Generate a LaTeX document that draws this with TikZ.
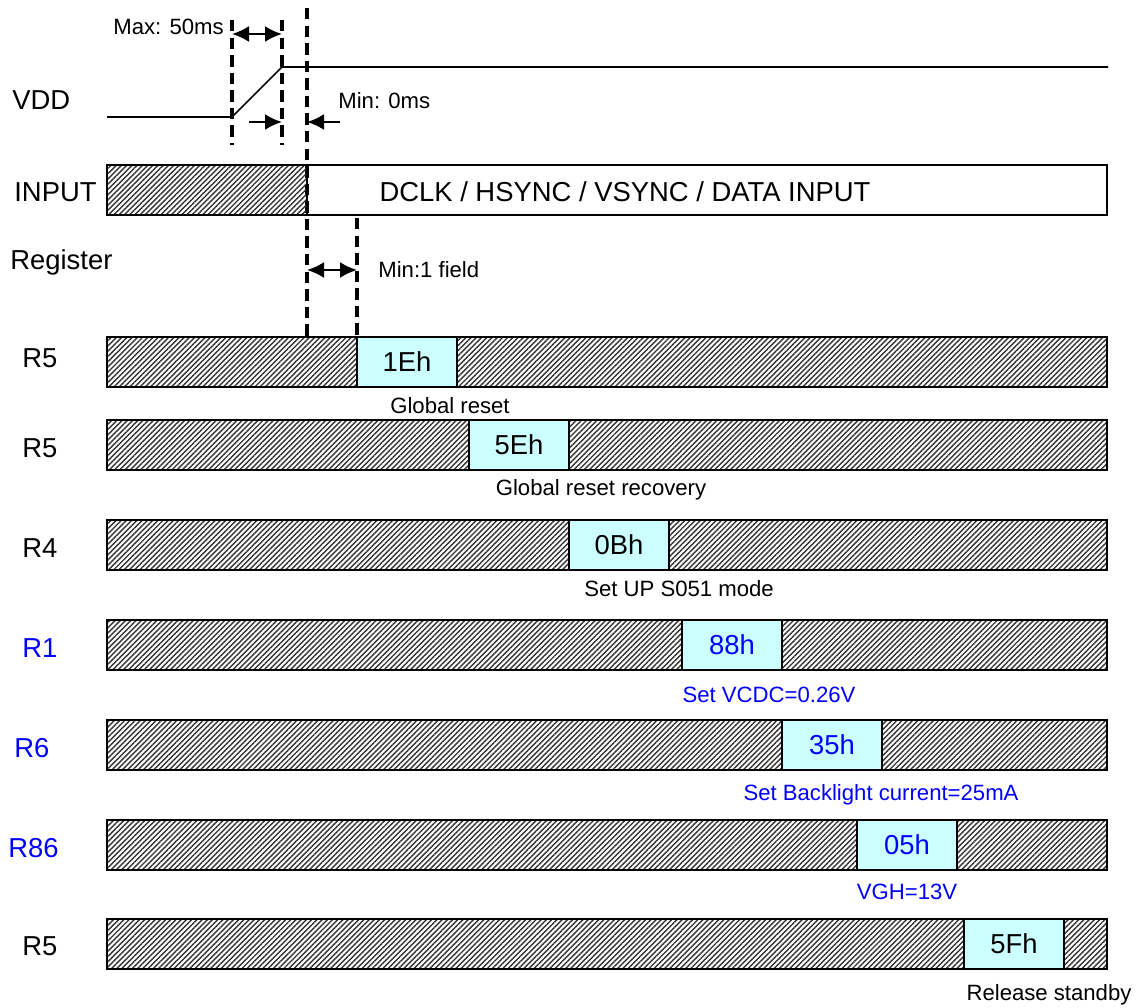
\documentclass[tikz,border=0pt]{standalone}
\usepackage{fontspec}
\setmainfont{Liberation Sans}
\usepackage{xcolor}
\usepackage{tikz}
\usetikzlibrary{arrows.meta,patterns.meta}
\definecolor{regcyan}{RGB}{204,255,255}
\definecolor{regblue}{RGB}{0,0,255}

\begin{document}
\begin{tikzpicture}[
  x=0.02cm, y=-0.02cm,
  bigtxt/.style={font=\fontsize{15.6}{18}\selectfont, inner sep=0pt},
  smalltxt/.style={font=\fontsize{12.6}{15}\selectfont, inner sep=0pt},
  hatch/.style={draw, line width=0.8pt, pattern={Lines[angle=45,distance=2.1pt,line width=0.8pt]}, pattern color=black!80},
  regbox/.style={draw, line width=0.8pt, fill=regcyan, minimum width=2cm, minimum height=1cm, inner sep=0pt, font=\fontsize{15.6}{18}\selectfont},
  guide/.style={line width=2pt, dash pattern=on 6.5pt off 3.5pt},
  dim/.style={{Latex[length=3.4mm,width=3.2mm]}-{Latex[length=3.4mm,width=3.2mm]}, line width=1.3pt},
  pointer/.style={-{Latex[length=3.4mm,width=3.2mm]}, line width=1.3pt},
  wave/.style={line width=1pt}
]
\useasboundingbox (0,0) rectangle (1141,1007);

% guide lines
\coordinate (g1top) at (232,20);  \coordinate (g1bot) at (232,145);
\coordinate (g2top) at (282,20);  \coordinate (g2bot) at (282,145);
\coordinate (g3top) at (307,8);   \coordinate (g3bot) at (307,337);
\coordinate (g4top) at (357,218); \coordinate (g4bot) at (357,337);
\draw[guide] (g1top) -- (g1bot);
\draw[guide] (g2top) -- (g2bot);
\draw[guide] (g3top) -- (g3bot);
\draw[guide] (g4top) -- (g4bot);

% VDD
\node[bigtxt, anchor=west] (vdd) at (12,100) {VDD};
\draw[wave] (107,117) -- (232,117) -- (282,67) -- (1108,67);
\node[smalltxt, anchor=west] (maxt) at (113,27) {Max: 50ms};
\coordinate (mx1) at (232,34); \coordinate (mx2) at (282,34);
\draw[dim] (mx1) -- (mx2);
\coordinate (ra) at (249,122); \coordinate (rb) at (282,122);
\draw[pointer] (ra) -- (rb);
\coordinate (la) at (340,122); \coordinate (lb) at (307,122);
\draw[pointer] (la) -- (lb);
\node[smalltxt, anchor=west] (mint) at (338,101) {Min: 0ms};

% INPUT
\node[bigtxt, anchor=west] (inlbl) at (14,192) {INPUT};
\draw[hatch] (107,165) rectangle (307,215);
\draw[line width=0.8pt] (307,165) rectangle (1107,215);
\node[bigtxt] (inp) at (625,192) {DCLK / HSYNC / VSYNC / DATA INPUT};

% Register
\node[bigtxt, anchor=west] (reglbl) at (10,262) {Register};
\coordinate (fd1) at (307,270); \coordinate (fd2) at (357,270);
\draw[dim] (fd1) -- (fd2);
\node[smalltxt, anchor=west] (fieldt) at (378,270) {Min:1 field};

% R5 global reset
\node[bigtxt, anchor=west] (row1) at (22,358) {R5};
\draw[hatch] (107,337) rectangle (1107,387);
\node[regbox] (box1) at (407,362) {1Eh};
\node[smalltxt] (note1) at (450,406) {Global reset};

% R5 recovery
\node[bigtxt, anchor=west] (row2) at (22,448) {R5};
\draw[hatch] (107,420) rectangle (1107,470);
\node[regbox] (box2) at (519,445) {5Eh};
\node[smalltxt] (note2) at (601,490) {Global reset recovery};

% R4
\node[bigtxt, anchor=west] (row3) at (22,548) {R4};
\draw[hatch] (107,520) rectangle (1107,570);
\node[regbox] (box3) at (619,545) {0Bh};
\node[smalltxt] (note3) at (679,589) {Set UP S051 mode};

% R1
\node[bigtxt, anchor=west, text=regblue] (row4) at (22,648) {R1};
\draw[hatch] (107,620) rectangle (1107,670);
\node[regbox, text=regblue] (box4) at (732,645) {88h};
\node[smalltxt, text=regblue] (note4) at (769,695) {Set VCDC=0.26V};

% R6
\node[bigtxt, anchor=west, text=regblue] (row5) at (14,748) {R6};
\draw[hatch] (107,720) rectangle (1107,770);
\node[regbox, text=regblue] (box5) at (832,745) {35h};
\node[smalltxt, text=regblue] (note5) at (881,795) {Set Backlight current=25mA};

% R86
\node[bigtxt, anchor=west, text=regblue] (row6) at (8,848) {R86};
\draw[hatch] (107,820) rectangle (1107,870);
\node[regbox, text=regblue] (box6) at (907,845) {05h};
\node[smalltxt, text=regblue] (note6) at (907,892) {VGH=13V};

% R5 standby
\node[bigtxt, anchor=west] (row7) at (22,946) {R5};
\draw[hatch] (107,919) rectangle (1107,969);
\node[regbox] (box7) at (1014,944) {5Fh};
\node[smalltxt] (note7) at (1049,995) {Release standby};
\end{tikzpicture}
\end{document}
